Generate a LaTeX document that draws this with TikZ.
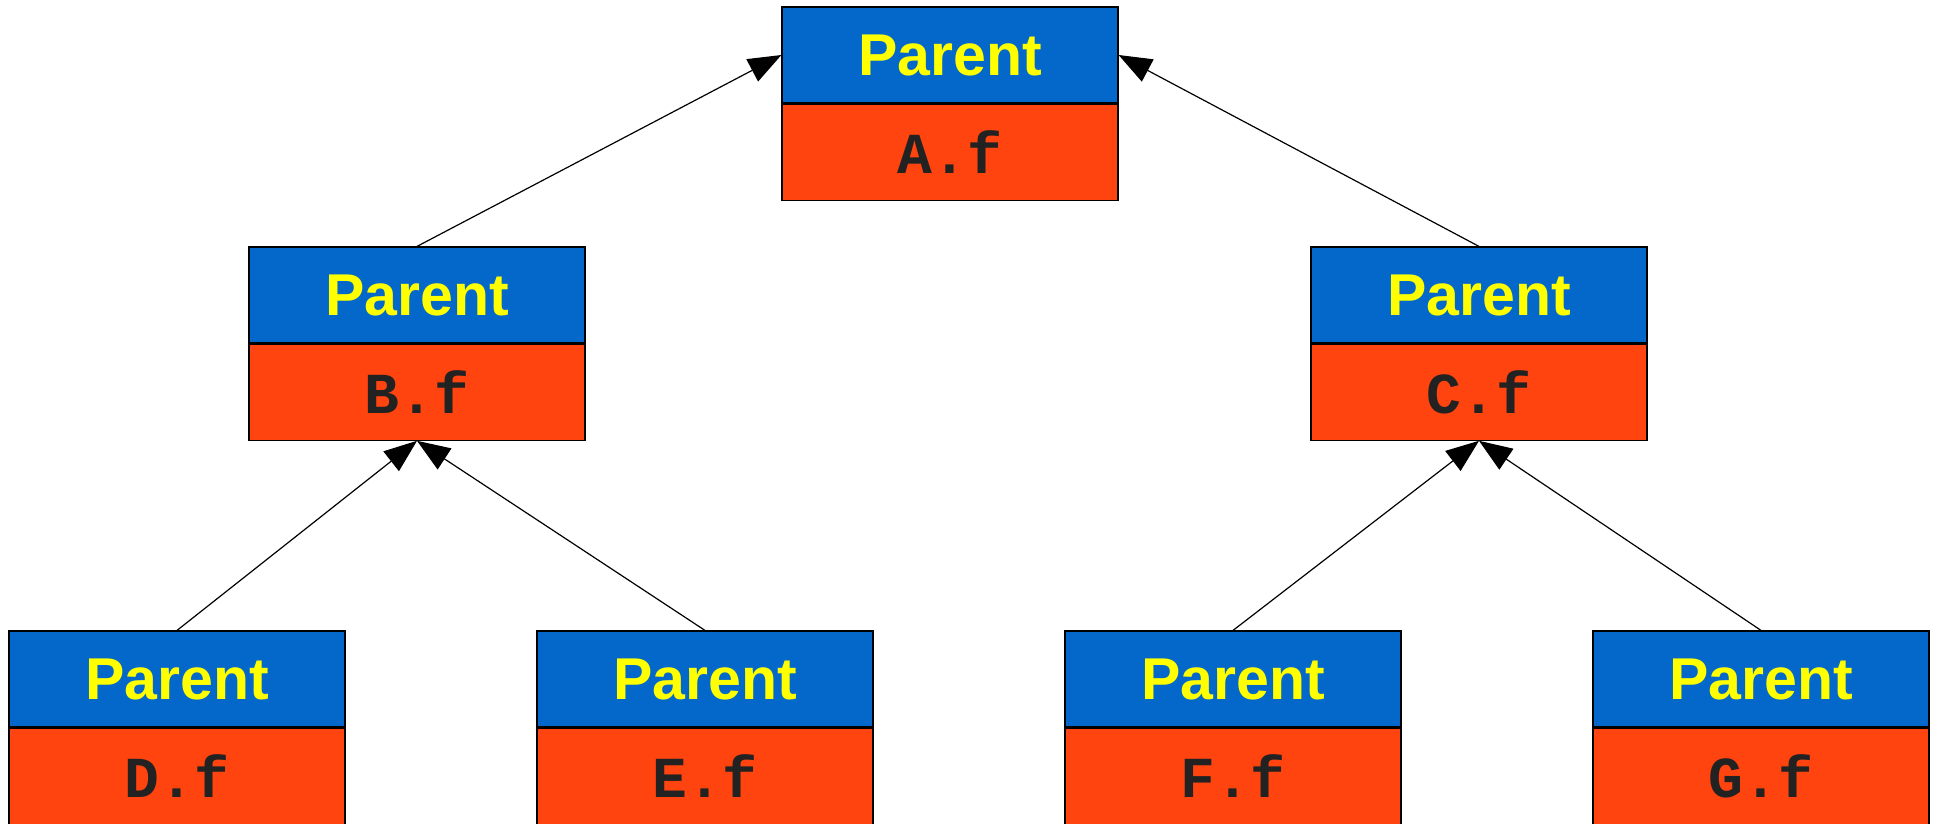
\documentclass[tikz,border=0pt]{standalone}
\usepackage{fontspec}
\setsansfont{Liberation Sans}
\setmonofont{Liberation Mono}
\usepackage{tikz}
\usetikzlibrary{positioning,arrows.meta}
\definecolor{hdblue}{RGB}{3,104,202}
\definecolor{fldred}{RGB}{255,68,15}
\definecolor{hdyellow}{RGB}{255,255,0}
\definecolor{codeink}{RGB}{34,34,34}

\begin{document}
\begin{tikzpicture}[x=1pt,y=1pt,yscale=-1,xscale=1,
    parentbox/.style={draw=black,line width=1.2pt,fill=hdblue,text=hdyellow,
      minimum width=336pt,minimum height=96pt,inner sep=0pt,
      font=\fontsize{59}{64}\selectfont\sffamily\bfseries},
    fieldbox/.style={draw=black,line width=1.2pt,fill=fldred,text=codeink,
      minimum width=336pt,minimum height=96pt,inner sep=0pt,
      font=\fontsize{58}{64}\selectfont\ttfamily\bfseries},
    link/.style={line width=1.2pt,-{Triangle[length=33pt,width=25pt]}}]
                    \useasboundingbox (0,0) rectangle (1937,823);

                    % Root
                    \node [parentbox] (Ap) at (950,55) {Parent};
                    \node [fieldbox, below=0pt of Ap] (Af) {A.f};

                    % Middle row
                    \node [parentbox] (Bp) at (417,295) {Parent};
                    \node [fieldbox, below=0pt of Bp] (Bf) {B.f};
                    \node [parentbox] (Cp) at (1479,295) {Parent};
                    \node [fieldbox, below=0pt of Cp] (Cf) {C.f};

                    % Bottom row
                    \node [parentbox] (Dp) at (177,679) {Parent};
                    \node [fieldbox, below=0pt of Dp] (Df) {D.f};
                    \node [parentbox] (Ep) at (705,679) {Parent};
                    \node [fieldbox, below=0pt of Ep] (Ef) {E.f};
                    \node [parentbox] (Fp) at (1233,679) {Parent};
                    \node [fieldbox, below=0pt of Fp] (Ff) {F.f};
                    \node [parentbox] (Gp) at (1761,679) {Parent};
                    \node [fieldbox, below=0pt of Gp] (Gf) {G.f};

                    % Parent links
                    \draw [link] (Bp.north) -- (Ap.west);
                    \draw [link] (Cp.north) -- (Ap.east);
                    \draw [link] (Dp.north) -- (Bf.south);
                    \draw [link] (Ep.north) -- (Bf.south);
                    \draw [link] (Fp.north) -- (Cf.south);
                    \draw [link] (Gp.north) -- (Cf.south);
\end{tikzpicture}
\end{document}
